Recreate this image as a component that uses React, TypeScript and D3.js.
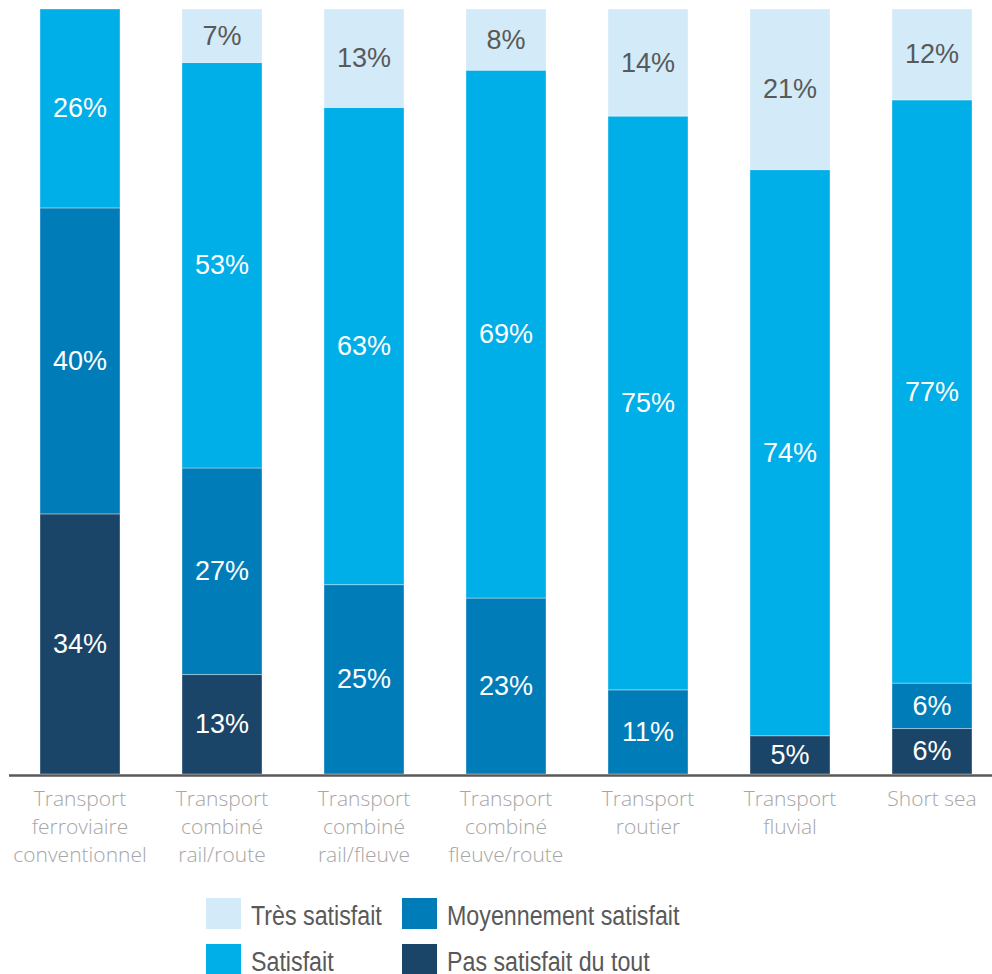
import React from 'react';
import * as d3 from 'd3';

// categories (multi-line labels)
const categories = [
  'Transport ferroviaire conventionnel',
  'Transport combiné rail/route',
  'Transport combiné rail/fleuve',
  'Transport combiné fleuve/route',
  'Transport routier',
  'Transport fluvial',
  'Short sea',
];
const categoryLines = [
  ['Transport', 'ferroviaire', 'conventionnel'],
  ['Transport', 'combiné', 'rail/route'],
  ['Transport', 'combiné', 'rail/fleuve'],
  ['Transport', 'combiné', 'fleuve/route'],
  ['Transport', 'routier'],
  ['Transport', 'fluvial'],
  ['Short sea'],
];

// series values (%)
const pasSatisfait = [34, 13, 0, 0, 0, 5, 6];
const moyennement = [40, 27, 25, 23, 11, 0, 6];
const satisfait = [26, 53, 63, 69, 75, 74, 77];
const tresSatisfait = [0, 7, 13, 8, 14, 21, 12];

const keys = ['pas', 'moyen', 'sat', 'tres'];
const seriesNames: Record<string, string> = {
  tres: 'Très satisfait',
  sat: 'Satisfait',
  moyen: 'Moyennement satisfait',
  pas: 'Pas satisfait du tout',
};
const colors: Record<string, string> = {
  tres: '#d3eaf8',
  sat: '#00aee8',
  moyen: '#007db8',
  pas: '#1a4568',
};
const labelColors: Record<string, string> = {
  tres: '#595959',
  sat: '#ffffff',
  moyen: '#ffffff',
  pas: '#ffffff',
};

const width = 992;
const height = 974;

const App: React.FC = () => {
  const rows = categories.map((c, i) => ({
    cat: c,
    pas: pasSatisfait[i],
    moyen: moyennement[i],
    sat: satisfait[i],
    tres: tresSatisfait[i],
  }));

  const stacked = d3
    .stack<any>()
    .keys(keys)
    .offset(d3.stackOffsetExpand)(rows);

  const x = d3
    .scaleBand()
    .domain(categories)
    .range([9, 1003])
    .paddingInner(62 / 142)
    .paddingOuter(31 / 142);

  const y = d3.scaleLinear().domain([0, 1]).range([774, 9]);

  const legendItems = [
    { key: 'tres', x: 206, y: 898 },
    { key: 'sat', x: 206, y: 944 },
    { key: 'moyen', x: 402, y: 898 },
    { key: 'pas', x: 402, y: 944 },
  ];

  return (
    <svg
      width={width}
      height={height}
      style={{ position: 'absolute', left: 0, top: 0, display: 'block' }}
    >
      <rect width={width} height={height} fill="#ffffff" />
      {stacked.map((layer) => (
        <g key={layer.key}>
          {layer.map((d, i) => {
            const v = (rows[i] as any)[layer.key];
            if (!v) return null;
            const x0 = x(categories[i]) || 0;
            const y0 = y(d[1]);
            const h = y(d[0]) - y(d[1]);
            return (
              <g key={i}>
                <rect
                  x={x0}
                  y={y0}
                  width={x.bandwidth()}
                  height={h}
                  fill={colors[layer.key]}
                  stroke="#ffffff"
                  strokeOpacity={0.35}
                  strokeWidth={1}
                />
                <text
                  x={x0 + x.bandwidth() / 2}
                  y={y0 + h / 2}
                  textAnchor="middle"
                  dominantBaseline="central"
                  fill={labelColors[layer.key]}
                  style={{ fontFamily: 'Liberation Sans, Arial, sans-serif', fontSize: 27 }}
                >
                  {v}%
                </text>
              </g>
            );
          })}
        </g>
      ))}

      <line x1={9} x2={992} y1={775.5} y2={775.5} stroke="#595959" strokeWidth={2.5} />

      {categoryLines.map((lines, i) => (
        <text
          key={i}
          x={(x(categories[i]) || 0) + x.bandwidth() / 2}
          y={806}
          textAnchor="middle"
          fill="#a6a6a6"
          style={{ fontFamily: "'Segoe UI Light', 'Open Sans', sans-serif", fontWeight: 300, fontSize: 21 }}
        >
          {lines.map((l, j) => (
            <tspan key={j} x={(x(categories[i]) || 0) + x.bandwidth() / 2} dy={j === 0 ? 0 : 28}>
              {l}
            </tspan>
          ))}
        </text>
      ))}

      {legendItems.map((it) => (
        <g key={it.key}>
          <rect x={it.x} y={it.y} width={35} height={31} fill={colors[it.key]} />
          <text
            transform={`translate(${it.x + 45},${it.y + 27}) scale(0.83,1)`}
            fill="#595959"
            style={{ fontFamily: "'Liberation Sans', Arial, sans-serif", fontSize: 28 }}
          >
            {seriesNames[it.key]}
          </text>
        </g>
      ))}
    </svg>
  );
};

export default App;
